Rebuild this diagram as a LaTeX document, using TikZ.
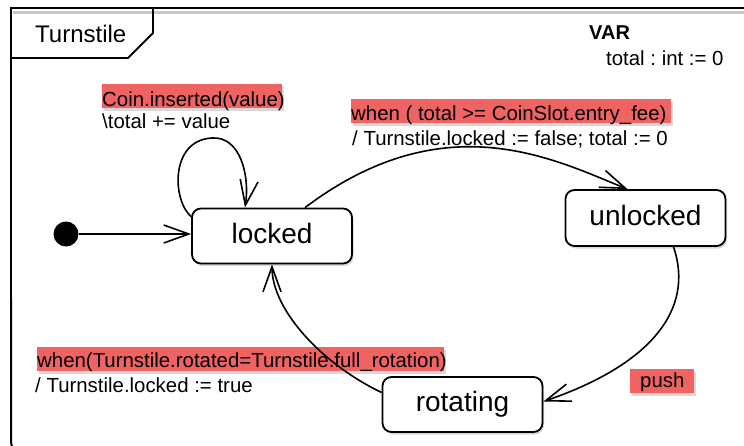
\documentclass[tikz,border=0pt]{standalone}
\usepackage{fontspec}
\setmainfont{Liberation Sans}
\usetikzlibrary{arrows.meta,shadows}
\definecolor{hlred}{RGB}{239,99,99}
\newcommand\padto[2]{\makebox[#1][l]{#2}}
\frenchspacing
\begin{document}
\begin{tikzpicture}[x=1pt,y=-1pt,
  state/.style={draw, line width=1.8pt, rounded corners=9pt, fill=white,
    minimum width=160pt, minimum height=55pt, inner sep=0pt,
    text height=20pt, text depth=6pt,
    font=\fontsize{28}{32}\selectfont,
    drop shadow={shadow xshift=1.5pt, shadow yshift=-2.5pt, opacity=.3}},
  lbl/.style={anchor=base west, inner sep=0pt, font=\fontsize{20.4}{24}\selectfont},
  hl/.style={lbl, fill=hlred,
    drop shadow={shadow xshift=2pt, shadow yshift=-3pt, opacity=.3}},
  trans/.style={line width=1.6pt, -{Straight Barb[length=25pt,width=18pt]}},
]
\useasboundingbox (0,0) rectangle (744,445);
\clip (0,0) rectangle (744,445);
\fill[white] (0,0) rectangle (744,445);

% enclosing state machine frame
\draw[black!22, line width=3pt] (13,12) -- (760,12);
\draw[line width=2pt] (760,8) -- (11,8) -- (11,300);
\draw[line width=2pt, rounded corners=10pt] (11,299) -- (11,452) -- (760,452);
% name tab
\draw[line width=1.8pt] (11,8) -- (153,8) -- (153,33) -- (128,58) -- (11,58);
\node[anchor=base west, inner sep=0pt, font=\fontsize{24}{28}\selectfont]
  (name) at (35,42) {Turnstile};

% variables
\node[lbl, font=\bfseries\fontsize{20}{24}\selectfont] (varhead) at (589,39) {VAR};
\node[lbl] (vardecl) at (606,65) {total : int := 0};

% states
\node[state] (locked) at (272,236) {locked};
\node[state, minimum height=56pt] (unlocked) at (645.5,218) {unlocked};
\node[state] (rotating) at (462.5,404.5) {rotating};
\node[circle, fill, inner sep=0pt, minimum size=25pt] (init) at (66,234) {};

% transition labels
\node[hl, text height=22pt, text depth=2pt] (coin) at (102,106)
  {\padto{180pt}{Coin.inserted(value)}};
\node[lbl] (coinact) at (102,128) {\textbackslash total += value};
\node[hl, text height=21pt, text depth=3pt] (unlockguard) at (351,120)
  {\padto{320pt}{when ( total >= CoinSlot.entry\_fee)}};
\node[lbl] (unlockact) at (352,145) {/ Turnstile.locked := false; total := 0};
\node[hl, text height=20pt, text depth=4pt] (lockguard) at (37,367)
  {\padto{407pt}{when(Turnstile.rotated=Turnstile.full\_rotation)}};
\node[lbl] (lockact) at (35,392) {/ Turnstile.locked := true};
\node[hl, text height=18pt, text depth=6pt, inner xsep=10pt] (push) at (630,387) {push};

% transitions
\draw[trans] (init) -- (init -| locked.west);
\draw[trans] ([yshift=-9pt]locked.north west)
  .. controls (172,200) and (170,140) .. (212,138)
  .. controls (240,136) and (250,175) .. ([xshift=-27pt]locked.north);
\draw[trans] ([xshift=33pt]locked.north)
  .. controls (445,102) and (555,160) .. ([xshift=-18pt]unlocked.north);
\draw[trans] ([xshift=28pt]unlocked.south)
  .. controls (695,310) and (650,365) .. ([yshift=3pt]rotating.east);
\draw[trans] ([yshift=12pt]rotating.west)
  .. controls (322,364) and (272,310) .. (locked.south);
\end{tikzpicture}
\end{document}
